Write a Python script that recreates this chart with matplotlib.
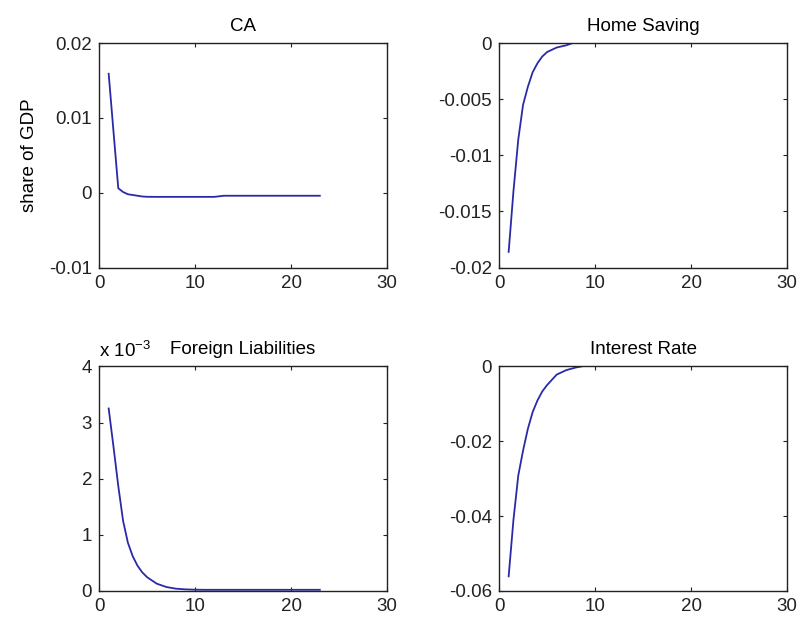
# Impulse responses, 2x2 panel (MATLAB-style look)

import matplotlib
matplotlib.use('Agg')
import matplotlib.pyplot as plt

plt.rcParams['font.family'] = ['Liberation Sans', 'DejaVu Sans']
plt.rcParams['mathtext.fontset'] = 'custom'
plt.rcParams['mathtext.rm'] = 'Liberation Sans'

# periods (half steps early on, where the curves bend)
periods = [1, 1.5, 2, 2.5, 3, 3.5, 4, 4.5, 5, 6, 7, 8, 9, 10, 11, 12,
           13, 14, 15, 16, 17, 18, 19, 20, 21, 22, 23]

ca = [0.0159, 0.0082, 0.0006, 0.0001, -0.0002, -0.0003, -0.0004, -0.0005,
      -0.00054, -0.00055, -0.00055, -0.00055, -0.00055, -0.00055, -0.00055,
      -0.00055, -0.0004, -0.0004, -0.0004, -0.0004, -0.0004, -0.0004,
      -0.0004, -0.0004, -0.0004, -0.0004, -0.0004]

home_saving = [-0.0186, -0.0132, -0.0086, -0.0055, -0.0039, -0.0026, -0.0018,
               -0.0012, -0.0008, -0.0004, -0.0002, 0.0001, 0.0001,
               0.0001, 0.0001, 0.0001, 0.0001, 0.0001, 0.0001, 0.0001,
               0.0001, 0.0001, 0.0001, 0.0001, 0.0001, 0.0001, 0.0001]

# foreign liabilities, in units of 1e-3
foreign_liab = [3.25, 2.57, 1.87, 1.25, 0.86, 0.62, 0.45, 0.33, 0.245, 0.13,
                0.07, 0.04, 0.028, 0.022, 0.02, 0.02, 0.02, 0.02, 0.02, 0.02,
                0.02, 0.02, 0.02, 0.02, 0.02, 0.02, 0.02]

interest_rate = [-0.0561, -0.041, -0.0292, -0.0225, -0.0167, -0.0122, -0.0091,
                 -0.0067, -0.0050, -0.0022, -0.0010, -0.0003, 0.0002,
                 0.0002, 0.0002, 0.0002, 0.0002, 0.0002, 0.0002, 0.0002,
                 0.0002, 0.0002, 0.0002, 0.0002, 0.0002, 0.0002, 0.0002]

x_ticks = [0, 10, 20, 30]
ca_ticks = [-0.01, 0, 0.01, 0.02]
ca_labels = ['-0.01', '0', '0.01', '0.02']
hs_ticks = [-0.02, -0.015, -0.01, -0.005, 0]
hs_labels = ['-0.02', '-0.015', '-0.01', '-0.005', '0']
fl_ticks = [0, 1, 2, 3, 4]
fl_labels = ['0', '1', '2', '3', '4']
ir_ticks = [-0.06, -0.04, -0.02, 0]
ir_labels = ['-0.06', '-0.04', '-0.02', '0']

line_col = '#2a2aa8'
fs = 13.5

fig, axes = plt.subplots(2, 2, figsize=(7.99, 6.24), dpi=100)
plt.subplots_adjust(left=0.124, right=0.985, top=0.931, bottom=0.053,
                    wspace=0.389, hspace=0.44)

panels = [
    (axes[0, 0], ca, 'CA', ca_ticks, ca_labels, (-0.01, 0.02)),
    (axes[0, 1], home_saving, 'Home Saving', hs_ticks, hs_labels, (-0.02, 0)),
    (axes[1, 0], foreign_liab, 'Foreign Liabilities', fl_ticks, fl_labels, (0, 4)),
    (axes[1, 1], interest_rate, 'Interest Rate', ir_ticks, ir_labels, (-0.06, 0)),
]

for ax, y, title, yt, yl, ylim in panels:
    ax.plot(periods, y, color=line_col, lw=1.3)
    ax.set_xlim(0, 30)
    ax.set_ylim(*ylim)
    ax.set_xticks(x_ticks)
    ax.set_xticklabels([str(t) for t in x_ticks])
    ax.set_yticks(yt)
    ax.set_yticklabels(yl)
    ax.set_title(title, fontsize=fs, pad=9)
    ax.tick_params(direction='in', length=3, width=0.8, top=True, right=True,
                   labelsize=fs, colors='#222222', pad=5)
    for s in ax.spines.values():
        s.set_linewidth(1.0)
        s.set_color('#222222')

axes[0, 0].set_ylabel('share of GDP', fontsize=fs, labelpad=8)
axes[1, 0].text(0, 1.025, r'x $\mathregular{10^{-3}}$', transform=axes[1, 0].transAxes,
                fontsize=fs, ha='left', va='bottom')

fig.savefig('out.png', dpi=100)
